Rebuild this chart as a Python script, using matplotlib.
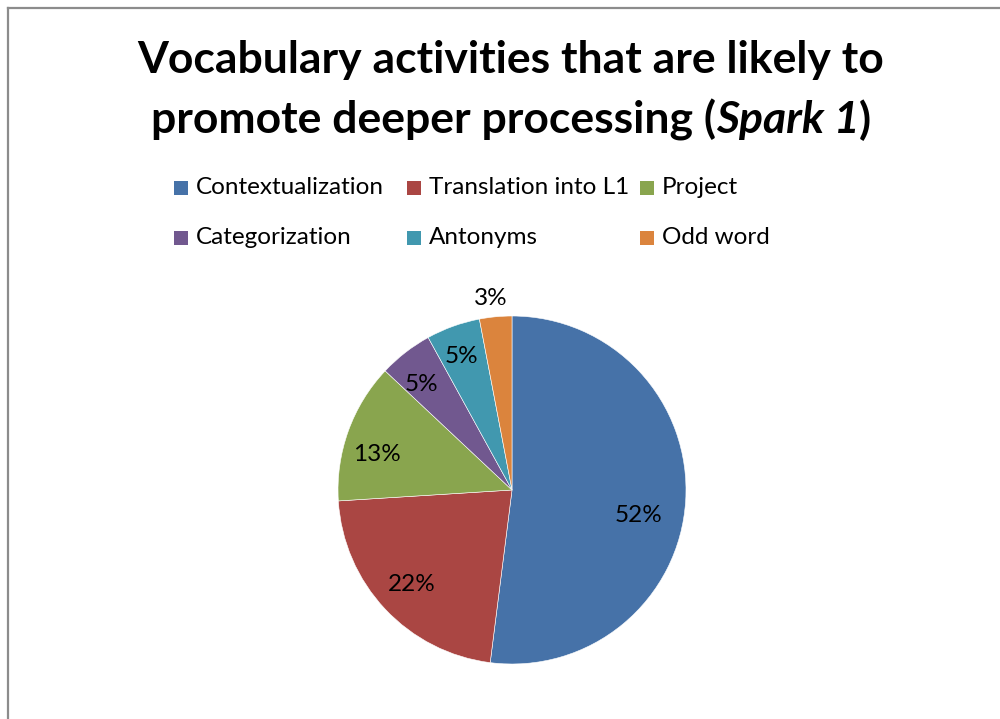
import numpy as np
import matplotlib
matplotlib.use("Agg")
import matplotlib.pyplot as plt
from matplotlib.patches import Rectangle
from matplotlib.lines import Line2D

# Activity shares (%)
activities = ["Contextualization", "Translation into L1", "Project",
              "Categorization", "Antonyms", "Odd word"]
shares = [52, 22, 13, 5, 5, 3]
colors = ["#4672A8", "#AA4643", "#89A54E", "#71588F", "#4198AF", "#DB843D"]

# per-slice label placement (fraction of radius, angle shift in degrees)
label_r = [0.74, 0.79, 0.80, 0.80, 0.82, 1.11]
label_shift = [-8, 0, 5, 3, 1, 1]

plt.rcParams['font.family'] = ['Lato', 'DejaVu Sans']

fig = plt.figure(figsize=(10, 7.19), dpi=100)
W, H = 1000, 719

# chart frame (only top and left edges visible)
fig.add_artist(Line2D([8 / W, 8 / W], [0, 1 - 8 / H], transform=fig.transFigure,
                      color="#8c8c8c", lw=1.6))
fig.add_artist(Line2D([8 / W, 1], [1 - 8 / H, 1 - 8 / H], transform=fig.transFigure,
                      color="#8c8c8c", lw=1.6))

# title, first line
title_size = 32
fig.text(0.511, 1 - 60 / H, "Vocabulary activities that are likely to",
         ha="center", va="center", fontsize=title_size, fontweight="bold")

# title, second line with italic part
parts = [("promote deeper processing (", "normal"), ("Spark 1", "italic"), (")", "normal")]
renderer = fig.canvas.get_renderer()
pieces = []
total = 0
for txt, style in parts:
    t = fig.text(0, 1 - 120 / H, txt, ha="left", va="center", fontsize=title_size,
                 fontweight="bold", fontstyle=style)
    w = t.get_window_extent(renderer).width
    pieces.append((t, w))
    total += w
x = 511 - total / 2
for t, w in pieces:
    t.set_x(x / W)
    x += w

# legend: 3 columns, 2 rows
text_size = 17.5
leg_x0, leg_colw = 174, 233
leg_y = [188, 238]
for i, (name, c) in enumerate(zip(activities, colors)):
    row, col = divmod(i, 3)
    x0 = leg_x0 + col * leg_colw
    y0 = leg_y[row]
    fig.add_artist(Rectangle((x0 / W, 1 - (y0 + 7) / H), 14 / W, 14 / H,
                             transform=fig.transFigure, facecolor=c, edgecolor="none"))
    fig.text((x0 + 22) / W, 1 - y0 / H, name, ha="left", va="center", fontsize=text_size)

# pie
cx, cy, R = 512, 490, 174
ax = fig.add_axes([(cx - R) / W, (H - cy - R) / H, 2 * R / W, 2 * R / H])
wedges, _ = ax.pie(shares, colors=colors, startangle=90, counterclock=False,
                   wedgeprops=dict(edgecolor="white", linewidth=0.4))
ax.set_xlim(-1, 1)
ax.set_ylim(-1, 1)
ax.set_aspect("equal")
ax.axis("off")

for w, val, r, sh in zip(wedges, shares, label_r, label_shift):
    mid = np.deg2rad((w.theta1 + w.theta2) / 2 + sh)
    ax.text(r * np.cos(mid), r * np.sin(mid), f"{val}%", ha="center", va="center",
            fontsize=text_size, clip_on=False)

fig.savefig("out.png", dpi=100, facecolor="white")
